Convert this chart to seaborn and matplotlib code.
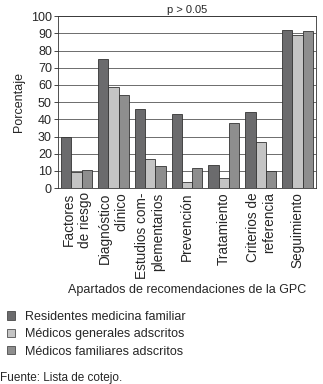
"""Bar chart: recommendation sections of the GPC by physician group."""

import matplotlib.pyplot as plt
import pandas as pd
import seaborn as sns

categories = [
    "Factores\nde riesgo",
    "Diagnóstico\nclínico",
    "Estudios com-\nplementarios",
    "Prevención",
    "Tratamiento",
    "Criterios de\nreferencia",
    "Seguimiento",
]
groups = [
    "Residentes medicina familiar",
    "Médicos generales adscritos",
    "Médicos familiares adscritos",
]
residentes = [30, 75, 46, 43, 13.5, 44, 92]
generales = [9.5, 59, 17, 3.5, 6, 27, 89]
familiares = [10.5, 54, 13, 12, 38, 10, 91.5]
colors = ["#6b6b6d", "#c4c4c4", "#8e8e8e"]

# Tidy table for seaborn
df = pd.DataFrame(
    {
        "apartado": categories * 3,
        "grupo": [g for g in groups for _ in categories],
        "pct": residentes + generales + familiares,
    }
)

sns.set_theme(style="white")
plt.rcParams["font.family"] = ["Liberation Sans", "DejaVu Sans"]
fs = 9

fig = plt.figure(figsize=(3.23, 3.84), dpi=100)
ax = fig.add_axes([0.18, 0.51, 0.798, 0.448])

sns.barplot(
    data=df,
    x="apartado",
    y="pct",
    hue="grupo",
    palette=colors,
    width=0.84,
    edgecolor="#333333",
    linewidth=0.6,
    legend=False,
    ax=ax,
)
ax.set_axisbelow(True)
ax.yaxis.grid(True, color="#555555", linewidth=0.6)
ax.set_ylim(0, 100)
ax.set_yticks(range(0, 101, 10))
ax.set_xlim(-0.5, len(categories) - 0.5)
ax.tick_params(axis="y", labelsize=fs, length=3, width=0.6, pad=1.5, left=True)
ax.tick_params(axis="x", labelsize=9.8, length=0, pad=3)
ax.set_xticks(range(len(categories)))
ax.set_xticklabels(categories, rotation=90, ha="center", va="top", multialignment="right")
for s in ax.spines.values():
    s.set_color("#333333")
    s.set_linewidth(0.6)

ax.set_ylabel("Porcentaje", fontsize=fs, labelpad=4)
ax.set_xlabel("")
ax.set_title("p > 0.05", fontsize=8, pad=2)

fig.text(0.58, 0.245, "Apartados de recomendaciones de la GPC", ha="center", va="center", fontsize=fs)

handles = [plt.Rectangle((0, 0), 1, 1, facecolor=c, edgecolor="#333333", linewidth=0.5) for c in colors]
fig.legend(
    handles,
    groups,
    loc="upper left",
    bbox_to_anchor=(0.022, 0.19),
    frameon=False,
    fontsize=fs,
    handlelength=0.65,
    handleheight=0.65,
    handletextpad=0.8,
    labelspacing=0.42,
    borderaxespad=0,
    borderpad=0,
)

fig.text(0.0, 0.016, "Fuente: Lista de cotejo.", ha="left", va="center", fontsize=8.5)

fig.savefig("out.png", dpi=100, facecolor="white")
